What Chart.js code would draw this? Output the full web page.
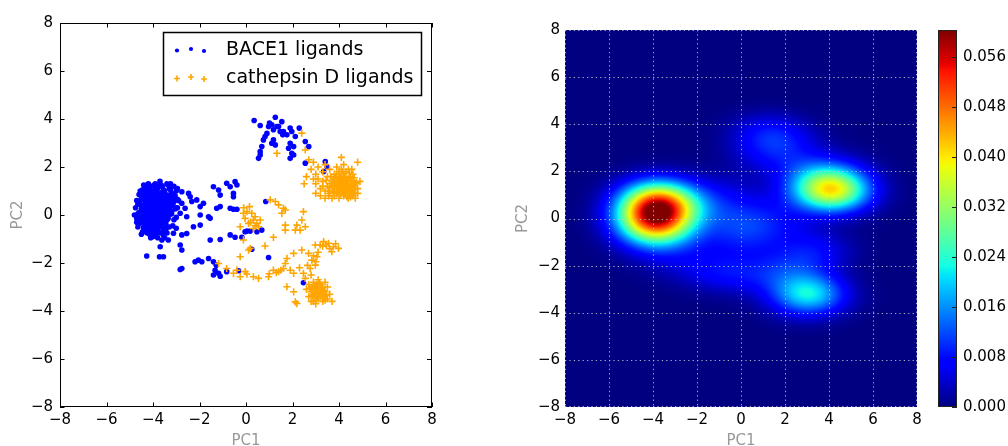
<!DOCTYPE html>
<html>
<head>
<meta charset="utf-8">
<script src="https://cdn.jsdelivr.net/npm/chart.js@4.4.0/dist/chart.umd.min.js"></script>
<style>
  body { margin: 0; background: #fff; overflow: hidden; width: 1008px; height: 446px; position: relative; }
  canvas { position: absolute; top: 0; }
</style>
</head>
<body>
<canvas id="scatterChart" width="450" height="460" style="left:0"></canvas>
<canvas id="densityChart" width="430" height="460" style="left:500px"></canvas>
<canvas id="colorbarChart" width="78" height="460" style="left:930px"></canvas>
<script>
// Datos
const axisTicks = [-8, -6, -4, -2, 0, 2, 4, 6, 8];
const colorbarTicks = [0, 0.008, 0.016, 0.024, 0.032, 0.040, 0.048, 0.056];
const colorbarMax = 0.0603;
const seriesNames = ['BACE1 ligands', 'cathepsin D ligands'];
const axisNames = ['PC1', 'PC2'];

const bace1Points = [
  // nube densa en (-4, 0)
  [-4.6,0.1],[-4.7,-0.3],[-4.5,0.4],[-4.5,-0.2],[-4.4,0.7],[-4.4,0.0],[-4.4,-0.5],[-4.3,1.1],[-4.3,0.3],[-4.3,-0.2],[-4.3,-0.7],[-4.2,1.3],[-4.2,0.9],[-4.2,0.5],[-4.2,0.1],[-4.2,-0.4],[-4.1,1.2],[-4.1,0.7],[-4.1,0.2],[-4.1,-0.1],[-4.1,-0.6],[-4.0,1.0],[-4.0,0.6],[-4.0,0.3],[-4.0,-0.2],[-4.0,-0.5],[-4.0,-0.9],[-3.9,1.3],[-3.9,0.8],[-3.9,0.4],[-3.9,0.0],[-3.9,-0.3],[-3.9,-0.8],[-3.8,1.1],[-3.8,0.6],[-3.8,0.2],[-3.8,-0.1],[-3.8,-0.6],[-3.7,1.4],[-3.7,0.9],[-3.7,0.5],[-3.7,0.1],[-3.7,-0.4],[-3.6,1.2],[-3.6,0.7],[-3.6,0.3],[-3.6,-0.2],[-3.6,-0.7],[-3.5,1.0],[-3.5,0.6],[-3.5,0.1],[-3.5,-0.4],[-3.4,1.3],[-3.4,0.8],[-3.4,0.3],[-3.4,-0.1],[-3.3,1.1],[-3.3,0.5],[-3.3,0.0],[-3.2,0.9],[-3.2,0.4],[-3.1,1.2],[-3.1,0.7],[-3.0,1.0],[-3.0,0.3],[-2.9,0.6],[-4.55,0.6],[-4.45,-0.7],[-4.35,0.9],[-4.15,-0.8],[-4.05,0.85],[-3.95,0.15],[-3.85,-0.45],[-3.75,0.75],[-3.65,-0.05],[-3.55,0.45],[-3.45,-0.6],[-4.25,0.65],[-4.05,0.45],[-3.95,-0.6],[-3.85,0.95],[-4.35,-0.35],[-4.15,0.25],[-3.75,-0.25],[-3.55,0.85],
  [-4.25,1.25],[-3.95,1.25],[-3.65,1.25],[-3.35,1.25],[-4.45,1.05],[-4.15,1.05],[-3.85,1.05],[-3.55,1.05],[-3.25,1.05],[-4.6,0.85],[-4.3,0.85],[-4.0,0.85],[-3.7,0.85],[-3.45,0.85],[-3.15,0.85],
  [-4.45,0.65],[-4.15,0.65],[-3.85,0.65],[-3.55,0.65],[-3.25,0.65],[-2.95,0.65],[-4.65,0.45],[-4.35,0.45],[-4.05,0.45],[-3.75,0.45],[-3.45,0.45],[-3.15,0.45],
  [-4.5,0.25],[-4.2,0.25],[-3.9,0.25],[-3.6,0.25],[-3.3,0.25],[-3.05,0.25],[-4.65,0.05],[-4.35,0.05],[-4.05,0.05],[-3.75,0.05],[-3.45,0.05],[-3.2,0.05],
  [-4.5,-0.15],[-4.2,-0.15],[-3.9,-0.15],[-3.6,-0.15],[-3.35,-0.15],[-4.6,-0.35],[-4.3,-0.35],[-4.0,-0.35],[-3.7,-0.35],[-3.45,-0.35],[-4.4,-0.55],[-4.1,-0.55],[-3.8,-0.55],[-3.55,-0.55],[-4.25,-0.75],[-3.95,-0.75],[-3.7,-0.75],
  [-4.05,0.35],[-3.85,0.55],[-3.95,-0.05],[-3.75,0.3],[-4.15,0.55],[-3.65,0.15],[-4.25,-0.1],[-3.9,0.7],[-3.7,-0.15],[-4.0,0.1],[-3.8,0.4],[-4.1,0.0],[-3.6,0.55],[-4.3,0.45],[-3.85,-0.2],[-3.55,0.25],[-4.2,0.3],[-3.95,0.6],[-3.75,0.05],[-4.05,-0.3],
  [-4.4,0.15],[-4.3,-0.55],[-4.1,0.8],[-4.0,-0.7],[-3.9,1.1],[-3.8,-0.35],[-3.7,0.85],[-3.6,-0.5],[-3.5,0.75],[-3.4,0.15],[-3.3,0.65],[-3.2,0.15],[-4.5,0.8],[-4.6,-0.1],[-4.2,-0.25],[-3.65,0.4],[-3.45,0.5],[-3.95,0.25],[-4.05,0.65],[-3.85,0.15],[-4.15,-0.45],[-3.75,1.2],[-3.55,-0.1],[-4.35,0.25],[-3.9,-0.45],
  [-4.75,0.3],[-4.7,0.6],[-4.65,-0.5],[-4.55,1.0],[-4.5,-0.8],[-4.8,0.0],[-3.05,0.8],[-3.0,-0.1],[-2.95,1.1],[-3.15,-0.45],[-3.25,1.3],[-3.4,-0.75],[-4.4,1.25],[-3.1,0.55],[-4.7,-0.15],
  [-4.25,0.35],[-4.1,0.45],[-3.95,0.45],[-3.8,0.3],[-3.65,0.3],[-3.5,0.35],[-4.2,0.75],[-4.05,0.2],[-3.9,0.05],[-3.75,-0.05],[-3.6,0.05],[-3.45,0.25],[-4.3,0.05],[-4.15,0.1],[-3.85,0.8],[-3.7,0.6],[-3.5,0.55],[-3.35,0.4],[-4.35,0.6],[-4.2,-0.05],[-3.95,-0.25],[-3.65,-0.3],[-3.4,-0.2],[-4.45,0.35],[-3.3,0.3],[-3.25,0.85],[-4.0,0.95],[-3.6,0.95],[-4.45,-0.3],[-3.85,-0.7],
  [-3.1,-0.2],[-3.3,-0.5],[-2.95,0.3],[-3.0,-0.55],[-3.5,-0.95],[-3.8,-0.95],[-4.1,-0.95],
  // puntos sueltos
  [-2.76,0.97],[-2.47,0.9],[-2.4,0.76],[-2.33,0.56],[-2.76,0.49],[-2.62,0.28],[-2.83,0.07],[-2.55,-0.07],[-2.12,0.63],[-1.97,0.35],[-1.83,0.49],[-1.97,0],[-2.26,-0.49],[-2.55,-0.77],[-2.76,-0.83],[-3.12,-0.76],[-2.83,-1.25],[-2.76,-1.46],[-3.34,-1.04],[-3.41,-0.49],[-3.55,-0.83],[-3.62,-1.04],[-3.69,-1.32],[-3.72,-1.74],[-3.55,-1.74],[-4.27,-1.71],[-2.76,-2.23],[-2.83,-2.27],
  [-1.4,1.18],[-1.18,1.04],[-1.11,0.83],[-0.83,1.32],[-0.68,1.18],[-0.54,0.9],[-0.47,1.39],[-0.39,1.25],[-0.54,0.76],[-1.11,0.35],[-1.26,0.28],[-1.61,-0.07],[-1.54,-0.14],[-0.68,0.28],[-0.54,0.24],[-0.39,0.24],[-1.97,-0.42],[-1.54,-1.04],[-1.11,-1.02],[-0.68,-0.83],[-0.47,-0.93],[-0.18,-0.93],[0.04,-0.67],[0.18,-0.67],[-0.04,-0.7],[0.47,-0.7],[0.68,-0.63],[0.85,0.56],[0.25,-1.43],[0.97,-1.77],
  [-2.19,-1.95],[-2.05,-1.88],[-1.9,-1.95],[-1.61,-1.81],[-1.4,-1.95],[-1.28,-2.09],[-1.33,-2.3],[-1.4,-2.5],[-1.18,-2.43],[-1.11,-2.55],[-0.83,-2.36],[-0.32,-2.32],[2.47,-2.82],
  // grupo superior
  [0.35,3.94],[1.26,4.07],[1.11,3.76],[0.97,3.69],[0.61,3.73],[1.33,3.69],[1.54,3.89],[1.47,3.48],[1.58,3.34],[1.9,3.62],[1.97,3.48],[2.29,3.62],[2.12,3.27],[1.9,2.99],[2.05,2.85],[1.83,2.78],[1.97,2.57],[1.9,2.36],[2.05,2.5],[2.55,3.06],[2.7,2.85],[2.55,2.16],[0.9,3.4],[0.82,3.27],[0.75,3.13],[0.68,2.85],[0.61,2.64],[0.54,2.36],[0.61,2.5],[1.18,3.13],[1.26,2.92],[1.11,2.99],[1.76,3.34],[1.61,3.48],[1.01,3.83],[1.18,3.55],[1.4,3.69],[3.41,2.23],[3.34,1.81],[3.48,2.02]
];

const cathepsinPoints = [
  // grupo derecho (4, 1.2)
  [2.5,1.3],[2.6,1.6],[2.8,1.9],[2.9,2.2],[3.0,1.7],[3.0,1.3],[3.1,2.0],[3.1,1.5],[3.2,1.1],[3.2,0.8],[3.3,1.8],[3.3,1.4],[3.4,2.1],[3.4,1.0],[3.4,0.7],[3.5,1.6],[3.5,1.2],[3.6,1.9],[3.6,0.9],[3.7,1.4],[3.7,0.7],[3.8,1.7],[3.8,1.1],[3.8,0.8],[3.9,2.0],[3.9,1.3],[3.9,0.9],[4.0,1.6],[4.0,1.1],[4.0,0.7],[4.1,2.4],[4.1,1.9],[4.1,1.4],[4.1,1.0],[4.2,1.7],[4.2,1.2],[4.2,0.8],[4.3,1.5],[4.3,1.1],[4.3,0.9],[4.4,1.9],[4.4,1.3],[4.4,1.0],[4.4,0.7],[4.5,1.6],[4.5,1.2],[4.5,0.9],[4.6,1.4],[4.6,1.1],[4.6,0.8],[4.7,1.3],[4.7,0.9],[4.8,2.2],[4.8,1.1],[4.9,1.4],[4.7,0.7],[4.3,1.8],[4.0,1.8],[3.6,1.3],[3.3,1.2],[3.0,0.9],[2.9,1.5],[4.45,1.55],[4.25,1.35],[4.15,0.95],[4.55,1.05],[4.35,0.75],[3.95,1.45],[4.65,1.25],[3.85,1.55],[3.75,1.0],[3.55,0.8],[4.05,1.25],[4.2,2.1],[4.6,1.7],[2.7,2.3],
  [3.45,1.45],[3.55,1.0],[3.65,1.6],[3.7,1.2],[3.8,0.95],[3.85,1.35],[3.9,1.7],[3.95,1.1],[4.0,1.4],[4.05,0.85],[4.1,1.6],[4.1,1.2],[4.15,1.45],[4.2,1.0],[4.25,1.6],[4.3,1.25],[4.35,1.05],[4.35,1.4],[4.4,0.85],[4.45,1.15],[4.5,1.45],[4.5,0.75],[4.55,1.3],[4.6,0.95],[4.65,1.55],[4.7,1.1],[4.75,1.35],[4.8,0.9],[4.0,1.0],[4.25,1.15],[3.75,1.5],[4.45,1.75],[3.6,1.15],[4.15,1.8],[4.55,1.9],
  [3.9,1.2],[4.0,1.3],[4.1,1.05],[4.2,1.4],[4.3,1.0],[4.35,1.2],[4.4,1.5],[4.5,1.05],[4.25,0.9],[3.95,0.95],[4.6,1.2],[3.8,1.25],[4.15,1.25],[4.45,0.95],[4.05,1.55],
  // grupo inferior (3.1, -3.2)
  [2.6,-3.1],[2.7,-3.4],[2.7,-2.9],[2.8,-3.2],[2.8,-3.6],[2.9,-2.8],[2.9,-3.1],[2.9,-3.4],[3.0,-3.0],[3.0,-3.3],[3.0,-3.7],[3.1,-2.7],[3.1,-3.1],[3.1,-3.5],[3.2,-2.9],[3.2,-3.2],[3.2,-3.4],[3.3,-3.0],[3.3,-3.3],[3.3,-3.6],[3.4,-2.8],[3.4,-3.2],[3.5,-3.0],[3.5,-3.5],[3.6,-3.3],[3.7,-3.6],[3.0,-3.55],[3.15,-3.25],[3.25,-3.05],[2.95,-3.25],[3.35,-3.45],[3.05,-2.9],[2.85,-3.0],[3.45,-3.35],
  [2.75,-3.05],[2.85,-3.35],[2.95,-2.95],[3.05,-3.15],[3.1,-3.4],[3.2,-3.05],[3.25,-3.3],[3.35,-3.15],[3.4,-3.55],[3.0,-3.45],[3.15,-2.85],[2.9,-3.6],
  [3.0,-3.2],[3.1,-3.0],[3.2,-3.3],[2.95,-3.1],[3.3,-3.4],[3.1,-3.25],
  // centro
  [-0.11,0.07],[0.04,0.14],[0.25,0.07],[0.32,-0.21],[0.11,-0.35],[0.47,-0.35],[0.54,-0.49],[0.32,-0.56],[-0.25,-0.49],[-0.04,-0.14],[0.39,-0.07],[0.61,-0.21],[1.04,0.63],[1.26,0.56],[1.4,0.42],[1.61,0.28],[1.69,0.21],[1.54,0.07],[2.47,0.14],[2.4,-0.21],[2.19,-0.42],[2.55,-0.49],[2.33,-0.63],[2.12,-0.63],[1.69,-0.42],[1.69,-0.63],[1.18,-0.93],[0.82,-1.29],[0.18,-1.39],[0.11,-1.46],[-0.25,-1.74],[-0.11,-1.04],[1.33,2.57],[2.4,3.41],[2.55,2.71],[0.2,-0.3],[0.4,-0.45],[-0.1,0.3],[0.15,0.35],
  // banda inferior
  [-1.18,-2.02],[-0.83,-2.23],[-0.54,-2.43],[-0.25,-2.57],[-0.04,-2.36],[-0.39,-2.3],[0.04,-2.46],[0.32,-2.57],[0.54,-2.64],[0.97,-2.57],[1.18,-2.3],[1.4,-2.36],[1.61,-2.23],[1.9,-2.3],[2.05,-2.43],[1.69,-2.02],[1.76,-1.81],[2.05,-1.6],[2.4,-1.46],[2.69,-1.6],[2.83,-1.88],[3.05,-1.74],[2.98,-2.09],[2.76,-2.23],[2.47,-2.43],[2.55,-2.64],[1.76,-2.99],[2.05,-3.2],[2.12,-3.62],[2.19,-3.69],[3.19,-1.25],[3.34,-1.11],[3.55,-1.18],[3.76,-1.32],[3.98,-1.39],[3.69,-1.53],[2.98,-1.25],[3.3,-1.3],[3.45,-1.25],[3.6,-1.4],[3.85,-1.2],[3.1,-1.55],[2.9,-1.7],[3.0,-1.95],[2.8,-2.5],[2.65,-2.1],[1.3,-2.4],[1.5,-2.3],[2.3,-2.2],[1.0,-2.45]
];

// Estilos
const FONT = 'DejaVu Sans';
const bwScale = 0.95;  // ancho de banda relativo a Scott
const minus = v => String(v).replace('-', '\u2212');
const toXY = pts => pts.map(p => ({ x: p[0], y: p[1] }));
const useTicks = list => scale => { scale.ticks = list.map(v => ({ value: v })); };

function jet(t) {
  t = Math.max(0, Math.min(1, t));
  const seg = (stops) => { for (let i = 1; i < stops.length; i++) { if (t <= stops[i][0]) { const [a, va] = stops[i - 1], [b, vb] = stops[i]; return va + (vb - va) * (t - a) / (b - a); } } return stops[stops.length - 1][1]; };
  return [
    seg([[0, 0], [0.35, 0], [0.66, 1], [0.89, 1], [1, 0.5]]) * 255,
    seg([[0, 0], [0.125, 0], [0.375, 1], [0.64, 1], [0.91, 0], [1, 0]]) * 255,
    seg([[0, 0.5], [0.11, 1], [0.34, 1], [0.65, 0], [1, 0]]) * 255
  ];
}

// densidad gaussiana sobre todos los puntos
function densityGrid(pts, res) {
  const n = pts.length;
  let mx = 0, my = 0; pts.forEach(p => { mx += p[0]; my += p[1]; }); mx /= n; my /= n;
  let sxx = 0, syy = 0, sxy = 0;
  pts.forEach(p => { const dx = p[0] - mx, dy = p[1] - my; sxx += dx * dx; syy += dy * dy; sxy += dx * dy; });
  const f2 = Math.pow(n, -1 / 3) * bwScale * bwScale;
  const a = sxx / (n - 1) * f2, b = sxy / (n - 1) * f2, c = syy / (n - 1) * f2;
  const det = a * c - b * b, ia = c / det, ib = -b / det, ic = a / det;
  const norm = 1 / (2 * Math.PI * Math.sqrt(det) * n);
  const grid = new Float32Array(res * res);
  for (let j = 0; j < res; j++) {
    const gy = 8 - (j + 0.5) * 16 / res;
    for (let i = 0; i < res; i++) {
      const gx = -8 + (i + 0.5) * 16 / res;
      let s = 0;
      for (let k = 0; k < n; k++) { const dx = gx - pts[k][0], dy = gy - pts[k][1]; s += Math.exp(-0.5 * (ia * dx * dx + 2 * ib * dx * dy + ic * dy * dy)); }
      grid[j * res + i] = s * norm;
    }
  }
  return grid;
}

const tickFont = { family: FONT, size: 15 };
const titleFont = { family: FONT, size: 15 };

function axis(min, max, name, isY, pad) {
  return {
    min, max, afterBuildTicks: useTicks(axisTicks),
    grid: { display: false, drawTicks: false }, border: { display: false },
    ticks: { color: '#000', font: tickFont, padding: isY ? pad.tick : 4, callback: minus },
    title: { display: true, text: name, color: '#999', font: titleFont, padding: isY ? { top: pad.title, bottom: 0 } : { top: 0, bottom: 10 } },
    afterFit: s => { if (isY) s.width = pad.width; else s.height = 53; }
  };
}

// marco negro con marcas hacia dentro
const frameTicks = {
  id: 'frameTicks',
  afterDraw(chart, args, opts) {
    if (!opts.on) return;
    const { ctx, chartArea: a, scales: { x, y } } = chart;
    ctx.save();
    ctx.strokeStyle = opts.color || '#000'; ctx.lineWidth = 1;
    ctx.strokeRect(Math.round(a.left) + 0.5, Math.round(a.top) + 0.5, Math.round(a.width) - 1, Math.round(a.height) - 1);
    ctx.beginPath();
    if (opts.xTicks) x.ticks.forEach(t => { const px = Math.round(x.getPixelForValue(t.value)) + 0.5; ctx.moveTo(px, a.bottom); ctx.lineTo(px, a.bottom - 4.5); ctx.moveTo(px, a.top); ctx.lineTo(px, a.top + 4.5); });
    y.ticks.forEach(t => { const py = Math.round(y.getPixelForValue(t.value)) + 0.5; if (opts.leftTicks) { ctx.moveTo(a.left, py); ctx.lineTo(a.left + 4.5, py); } ctx.moveTo(a.right, py); ctx.lineTo(a.right - 5, py); });
    ctx.stroke();
    ctx.restore();
  }
};

// leyenda dentro del área
const boxLegend = {
  id: 'boxLegend',
  afterDraw(chart, args, opts) {
    if (!opts.on) return;
    const { ctx } = chart;
    ctx.save();
    ctx.fillStyle = '#fff'; ctx.fillRect(163, 32, 259, 64);
    ctx.strokeStyle = '#000'; ctx.lineWidth = 1.5; ctx.strokeRect(163.5, 32.5, 258, 63);
    chart.data.datasets.slice().reverse().forEach((ds, i) => {
      const cy = 49 + i * 28;
      [[177, 1.5], [191, 0], [204, 2]].forEach(([mx, dy]) => {
        ctx.fillStyle = ds.pointBackgroundColor; ctx.strokeStyle = ds.pointBorderColor; ctx.lineWidth = ds.pointBorderWidth || 1;
        ctx.beginPath();
        if (ds.pointStyle === 'cross') { const r = ds.pointRadius * 0.8; ctx.moveTo(mx - r, cy + dy); ctx.lineTo(mx + r, cy + dy); ctx.moveTo(mx, cy + dy - r); ctx.lineTo(mx, cy + dy + r); ctx.stroke(); }
        else { ctx.arc(mx, cy + dy, ds.pointRadius * 0.75, 0, Math.PI * 2); ctx.fill(); }
      });
      ctx.fillStyle = '#000'; ctx.font = '19px "' + FONT + '"'; ctx.textBaseline = 'middle'; ctx.textAlign = 'left';
      ctx.fillText(ds.label, 226, cy + 1);
    });
    ctx.restore();
  }
};

// mapa de densidad + rejilla punteada
const densityMap = {
  id: 'densityMap',
  beforeDatasetsDraw(chart, args, opts) {
    if (!opts.on) return;
    const { ctx, chartArea: a, scales: { x, y } } = chart;
    if (!chart.$img) {
      const res = 200, grid = densityGrid(bace1Points.concat(cathepsinPoints), res);
      const off = document.createElement('canvas'); off.width = res; off.height = res;
      const octx = off.getContext('2d'), img = octx.createImageData(res, res);
      for (let k = 0; k < grid.length; k++) { const c = jet(grid[k] / colorbarMax); img.data[k * 4] = c[0]; img.data[k * 4 + 1] = c[1]; img.data[k * 4 + 2] = c[2]; img.data[k * 4 + 3] = 255; }
      octx.putImageData(img, 0, 0);
      chart.$img = off;
    }
    const x0 = x.getPixelForValue(-8), x1 = x.getPixelForValue(8), y0 = y.getPixelForValue(8), y1 = y.getPixelForValue(-8);
    ctx.save();
    ctx.imageSmoothingEnabled = true;
    ctx.drawImage(chart.$img, x0, y0, x1 - x0, y1 - y0);
    ctx.strokeStyle = 'rgba(200,200,200,0.85)'; ctx.lineWidth = 1; ctx.setLineDash([1.3, 3.1]);
    ctx.beginPath();
    x.ticks.forEach(t => { const px = Math.round(x.getPixelForValue(t.value)) + (t.value === 8 ? -0.5 : 0.5); ctx.moveTo(px, a.top); ctx.lineTo(px, a.bottom); });
    y.ticks.forEach(t => { const py = Math.round(y.getPixelForValue(t.value)) + (t.value === -8 ? -0.5 : 0.5); ctx.moveTo(a.left, py); ctx.lineTo(a.right, py); });
    ctx.stroke();
    ctx.restore();
  }
};

// barra de color
const colorRamp = {
  id: 'colorRamp',
  beforeDatasetsDraw(chart, args, opts) {
    if (!opts.on) return;
    const { ctx, chartArea: a, scales: { y } } = chart;
    for (let py = Math.round(a.top); py < Math.round(a.bottom); py++) {
      const c = jet(y.getValueForPixel(py + 0.5) / colorbarMax);
      ctx.fillStyle = 'rgb(' + c.map(Math.round).join(',') + ')';
      ctx.fillRect(a.left, py, a.width, 1);
    }
  }
};

Chart.register(frameTicks, boxLegend, densityMap, colorRamp);

const baseOpts = { responsive: false, animation: false, events: [] };

// Gráfica 1: dispersión (naranja encima)
new Chart(document.getElementById('scatterChart'), {
  type: 'scatter',
  data: { datasets: [
    { label: seriesNames[1], data: toXY(cathepsinPoints), pointStyle: 'cross', pointRadius: 3.6, pointBorderWidth: 1.6, pointBorderColor: '#ffa500', pointBackgroundColor: '#ffa500' },
    { label: seriesNames[0], data: toXY(bace1Points), pointStyle: 'circle', pointRadius: 2.8, pointBorderWidth: 0, pointBorderColor: '#0000ff', pointBackgroundColor: '#0000ff' }
  ] },
  options: { ...baseOpts,
    layout: { padding: { left: 0, top: 23, right: 18, bottom: 0 } },
    plugins: { legend: { display: false }, tooltip: { enabled: false }, frameTicks: { on: true, xTicks: true, leftTicks: true }, boxLegend: { on: true } },
    scales: { x: axis(-8, 8, axisNames[0], false), y: axis(-8, 8, axisNames[1], true, { tick: 7, title: 9, width: 60 }) }
  }
});

// Gráfica 2: densidad
new Chart(document.getElementById('densityChart'), {
  type: 'scatter',
  data: { datasets: [] },
  options: { ...baseOpts,
    layout: { padding: { left: 0, top: 30, right: 13, bottom: 0 } },
    plugins: { legend: { display: false }, tooltip: { enabled: false }, densityMap: { on: true } },
    scales: { x: axis(-8, 8, axisNames[0], false), y: axis(-8, 8, axisNames[1], true, { tick: 5, title: 14, width: 65 }) }
  }
});

// Gráfica 3: barra de color
new Chart(document.getElementById('colorbarChart'), {
  type: 'scatter',
  data: { datasets: [] },
  options: { ...baseOpts,
    layout: { padding: { left: 8, top: 30, right: 0, bottom: 53 } },
    plugins: { legend: { display: false }, tooltip: { enabled: false }, colorRamp: { on: true }, frameTicks: { on: true, color: '#222' } },
    scales: {
      x: { display: false, min: 0, max: 1 },
      y: { position: 'right', min: 0, max: colorbarMax, afterBuildTicks: useTicks(colorbarTicks),
        grid: { display: false, drawTicks: false }, border: { display: false },
        ticks: { color: '#000', font: tickFont, padding: 6, callback: v => v.toFixed(3) },
        afterFit: s => { s.width = 51; } }
    }
  }
});
</script>
</body>
</html>
